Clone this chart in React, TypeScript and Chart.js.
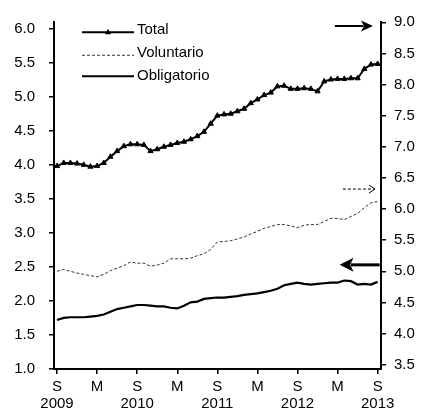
import React, { useEffect, useRef } from 'react';
import { Chart, registerables } from 'chart.js';
Chart.register(...registerables);

const months = [
  '2009-09', '2009-10', '2009-11', '2009-12',
  '2010-01', '2010-02', '2010-03', '2010-04', '2010-05', '2010-06', '2010-07', '2010-08', '2010-09', '2010-10', '2010-11', '2010-12',
  '2011-01', '2011-02', '2011-03', '2011-04', '2011-05', '2011-06', '2011-07', '2011-08', '2011-09', '2011-10', '2011-11', '2011-12',
  '2012-01', '2012-02', '2012-03', '2012-04', '2012-05', '2012-06', '2012-07', '2012-08', '2012-09', '2012-10', '2012-11', '2012-12',
  '2013-01', '2013-02', '2013-03', '2013-04', '2013-05', '2013-06', '2013-07', '2013-08', '2013-09',
];

// Right axis
const total = [
  6.69, 6.74, 6.74, 6.73, 6.71, 6.68, 6.69, 6.74, 6.84, 6.93, 7.01, 7.04, 7.04,
  7.03, 6.93, 6.96, 7.0, 7.03, 7.06, 7.08, 7.12, 7.17, 7.24, 7.37, 7.5,
  7.52, 7.53, 7.57, 7.61, 7.7, 7.76, 7.83, 7.87, 7.97, 7.98, 7.93, 7.93,
  7.94, 7.93, 7.89, 8.05, 8.08, 8.09, 8.09, 8.1, 8.1, 8.25, 8.32, 8.33,
];
// Right axis
const voluntario = [
  5.0, 5.03, 5.0, 4.97, 4.95, 4.93, 4.91, 4.95, 5.01, 5.05, 5.09, 5.15, 5.13,
  5.13, 5.08, 5.1, 5.13, 5.2, 5.2, 5.2, 5.21, 5.25, 5.28, 5.35, 5.47,
  5.48, 5.49, 5.52, 5.55, 5.6, 5.64, 5.69, 5.72, 5.75, 5.75, 5.73, 5.7,
  5.74, 5.75, 5.75, 5.8, 5.85, 5.85, 5.83, 5.88, 5.93, 6.02, 6.1, 6.12,
];
// Left axis
const obligatorio = [
  1.72, 1.75, 1.76, 1.76, 1.76, 1.77, 1.78, 1.8, 1.84, 1.88, 1.9, 1.92, 1.94,
  1.94, 1.93, 1.92, 1.92, 1.9, 1.89, 1.93, 1.98, 1.99, 2.03, 2.04, 2.05,
  2.05, 2.06, 2.07, 2.09, 2.1, 2.11, 2.13, 2.15, 2.18, 2.23, 2.25, 2.27,
  2.25, 2.24, 2.25, 2.26, 2.27, 2.27, 2.3, 2.29, 2.24, 2.25, 2.24, 2.28,
];

const leftTicks = [1.0, 1.5, 2.0, 2.5, 3.0, 3.5, 4.0, 4.5, 5.0, 5.5, 6.0];
const rightTicks = [3.5, 4.0, 4.5, 5.0, 5.5, 6.0, 6.5, 7.0, 7.5, 8.0, 8.5, 9.0];
const xTickMonths = ['2009-09', '2010-03', '2010-09', '2011-03', '2011-09', '2012-03', '2012-09', '2013-03', '2013-09'];
const xTickLabels = [['S', '2009'], ['M'], ['S', '2010'], ['M'], ['S', '2011'], ['M'], ['S', '2012'], ['M'], ['S', '2013']];

const FAMILY = "'Liberation Sans', Arial, Helvetica, sans-serif";
const FONT = { family: FAMILY, size: 15, lineHeight: 1.1 };

const legendPlugin = {
  id: 'insideLegend',
  afterDraw(chart: any) {
    const { ctx, chartArea } = chart;
    const x0 = chartArea.left + 28;
    const x1 = chartArea.left + 80;
    const tx = chartArea.left + 83;
    const rows = [chartArea.top + 10, chartArea.top + 33, chartArea.top + 54];
    chart.data.datasets.forEach((ds: any, i: number) => {
      const y = rows[i];
      ctx.save();
      ctx.strokeStyle = ds.borderColor;
      ctx.lineWidth = ds.borderWidth;
      ctx.setLineDash(ds.borderDash || []);
      ctx.beginPath();
      ctx.moveTo(x0, y);
      ctx.lineTo(x1, y);
      ctx.stroke();
      ctx.setLineDash([]);
      if (ds.pointStyle === 'triangle') {
        const cx = (x0 + x1) / 2;
        const r = ds.pointRadius;
        ctx.fillStyle = '#000';
        ctx.beginPath();
        ctx.moveTo(cx, y - r * 1.2);
        ctx.lineTo(cx + r, y + r * 0.7);
        ctx.lineTo(cx - r, y + r * 0.7);
        ctx.closePath();
        ctx.fill();
      }
      ctx.fillStyle = '#000';
      ctx.font = `15px ${FAMILY}`;
      ctx.textBaseline = 'middle';
      ctx.textAlign = 'left';
      ctx.fillText(ds.label, tx, i < 2 ? y - 2 : y);
      ctx.restore();
    });
  },
};

function drawArrow(ctx: CanvasRenderingContext2D, xFrom: number, xTo: number, y: number, headLen: number, headHalf: number, lw: number, dash: number[], filled: boolean) {
  const dir = xTo > xFrom ? 1 : -1;
  ctx.save();
  ctx.strokeStyle = '#000';
  ctx.fillStyle = '#000';
  ctx.lineWidth = lw;
  ctx.setLineDash(dash);
  ctx.beginPath();
  ctx.moveTo(xFrom, y);
  ctx.lineTo(xTo - dir * (filled ? headLen * 0.8 : 1), y);
  ctx.stroke();
  ctx.setLineDash([]);
  ctx.beginPath();
  ctx.moveTo(xTo, y);
  ctx.lineTo(xTo - dir * headLen, y - headHalf);
  if (filled) {
    ctx.lineTo(xTo - dir * headLen * 0.75, y);
    ctx.lineTo(xTo - dir * headLen, y + headHalf);
    ctx.closePath();
    ctx.fill();
  } else {
    ctx.moveTo(xTo, y);
    ctx.lineTo(xTo - dir * headLen, y + headHalf);
    ctx.lineWidth = 1;
    ctx.stroke();
  }
  ctx.restore();
}

// Axis-indicator arrows, in data units: [xFrom, xTo, y]
const arrowTotal = [41.6, 47.3, 8.94];
const arrowVol = [42.8, 47.6, 6.32];
const arrowObl = [48.3, 42.3, 2.53];

const arrowPlugin = {
  id: 'axisArrows',
  afterDatasetsDraw(chart: any) {
    const { ctx, scales } = chart;
    const x = scales.x, yL = scales.yL, yR = scales.yR;
    drawArrow(ctx, x.getPixelForValue(arrowTotal[0]), x.getPixelForValue(arrowTotal[1]), yR.getPixelForValue(arrowTotal[2]), 12, 5.5, 2, [], true);
    drawArrow(ctx, x.getPixelForValue(arrowVol[0]), x.getPixelForValue(arrowVol[1]), yR.getPixelForValue(arrowVol[2]), 6, 4, 1, [3, 2], false);
    drawArrow(ctx, x.getPixelForValue(arrowObl[0]), x.getPixelForValue(arrowObl[1]), yL.getPixelForValue(arrowObl[2]), 14, 7, 3, [], true);
  },
};

export default function App() {
  const ref = useRef<HTMLCanvasElement | null>(null);
  useEffect(() => {
    if (!ref.current) return;
    const toXY = (arr: number[]) => arr.map((v, i) => ({ x: i, y: v }));
    const xTickIdx = xTickMonths.map((m) => months.indexOf(m));
    const tickGrid = { drawOnChartArea: false, drawTicks: true, tickLength: 5, color: '#000', lineWidth: 1.5 };
    const border = { color: '#000', width: 2 };
    const chart = new Chart(ref.current, {
      type: 'line',
      data: {
        datasets: [
          {
            label: 'Total', data: toXY(total), yAxisID: 'yR',
            borderColor: '#000', borderWidth: 2, pointStyle: 'triangle', pointRadius: 3,
            pointBackgroundColor: '#000', pointBorderColor: '#000', pointBorderWidth: 1, tension: 0,
          },
          {
            label: 'Voluntario', data: toXY(voluntario), yAxisID: 'yR',
            borderColor: '#333', borderWidth: 1, borderDash: [3, 2], pointRadius: 0, tension: 0,
          },
          {
            label: 'Obligatorio', data: toXY(obligatorio), yAxisID: 'yL',
            borderColor: '#000', borderWidth: 2.2, pointRadius: 0, tension: 0,
          },
        ] as any,
      },
      options: {
        animation: false,
        responsive: false,
        layout: { padding: { top: 18, left: 0, right: 0, bottom: 0 } },
        plugins: { legend: { display: false }, tooltip: { enabled: false } },
        scales: {
          x: {
            type: 'linear', min: -0.45, max: 48.5,
            afterBuildTicks: (s: any) => { s.ticks = xTickIdx.map((v) => ({ value: v })); },
            afterFit: (s: any) => { s.height = 42; },
            ticks: {
              font: FONT, color: '#000', padding: 5, maxRotation: 0, autoSkip: false,
              callback: (v: any) => { const k = xTickIdx.indexOf(Number(v)); return k >= 0 ? xTickLabels[k] : ''; },
            },
            grid: tickGrid, border,
          },
          yL: {
            type: 'linear', position: 'left', min: 1.0, max: 6.094,
            afterBuildTicks: (s: any) => { s.ticks = leftTicks.map((v) => ({ value: v })); },
            afterFit: (s: any) => { s.width = 54; },
            ticks: { font: FONT, color: '#000', padding: 14, callback: (v: any) => Number(v).toFixed(1) },
            grid: tickGrid, border,
          },
          yR: {
            type: 'linear', position: 'right', min: 3.43, max: 9.0,
            afterBuildTicks: (s: any) => { s.ticks = rightTicks.map((v) => ({ value: v })); },
            afterFit: (s: any) => { s.width = 41; },
            ticks: { font: FONT, color: '#000', padding: 8, callback: (v: any) => Number(v).toFixed(1) },
            grid: tickGrid, border,
          },
        },
      } as any,
      plugins: [legendPlugin, arrowPlugin],
    });
    return () => chart.destroy();
  }, []);
  return (
    <div style={{ position: 'fixed', left: 0, top: 0, width: 422, height: 411, background: '#fff' }}>
      <canvas ref={ref} width={422} height={411} style={{ display: 'block' }} />
    </div>
  );
}
